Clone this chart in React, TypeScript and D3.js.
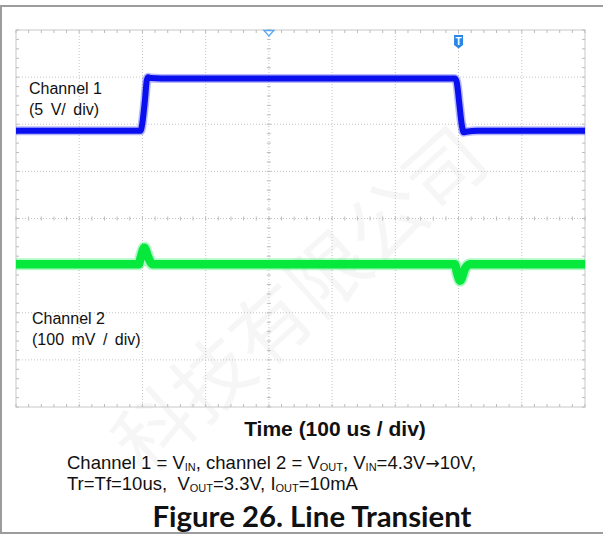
import React from "react";
import * as d3 from "d3";

// time in microseconds (100 us / div)
const timeDomain = [0, 900];
const divCount = 8;
const gridTimes = [100, 200, 300, 400, 500, 600, 700, 800];
const gridDivs = [1, 2, 3, 4, 5, 6, 7];

// Channel 1: VIN (V), 5 V/div
const ch1Time = [0, 197, 200, 204, 207, 209, 213, 230, 694, 697, 701, 705, 708, 712, 730, 900];
const ch1Volt = [4.3, 4.3, 5.2, 7.6, 9.7, 10.0, 9.9, 9.85, 9.85, 9.5, 7.3, 5.0, 4.15, 4.2, 4.3, 4.3];
// Channel 2: VOUT (V), 100 mV/div
const ch2Time = [0, 194, 198, 203, 209, 216, 694, 698, 702.5, 710, 718, 900];
const ch2Volt = [3.3, 3.3, 3.318, 3.335, 3.315, 3.3, 3.3, 3.28, 3.265, 3.29, 3.3, 3.3];

const ch1OffsetDiv = 5.0; // 0 V position
const ch1VoltsPerDiv = 5;
const ch2RefVolt = 3.3;
const ch2RefDiv = 3.03;
const ch2VoltsPerDiv = 0.1;

const triggerTime = 700;
const centerTime = 400;

export default function App() {
  const W = 603, H = 536;
  const L = 16, R = 585, T = 30, B = 407;
  const x = d3.scaleLinear().domain(timeDomain).range([L, R]);
  const y = d3.scaleLinear().domain([0, divCount]).range([B, T]);
  const ch1Div = (v: number) => ch1OffsetDiv + v / ch1VoltsPerDiv;
  const ch2Div = (v: number) => ch2RefDiv + (v - ch2RefVolt) / ch2VoltsPerDiv;

  const line = d3.line<[number, number]>().x(d => d[0]).y(d => d[1]).curve(d3.curveMonotoneX);
  const ch1Path = line(ch1Time.map((t, i) => [x(t), y(ch1Div(ch1Volt[i]))]))!;
  const ch2Path = line(ch2Time.map((t, i) => [x(t), y(ch2Div(ch2Volt[i]))]))!;

  const minorX = d3.range(timeDomain[0], timeDomain[1] + 0.1, 20);
  const minorY = d3.range(0, divCount + 0.01, 0.2);
  const cx = x(centerTime);
  const cy = y(4);
  const gridColor = "#c4c4c4";
  const font = "Liberation Sans, Arial, sans-serif";

  return (
    <svg width={W} height={H} style={{ position: "absolute", left: 0, top: 0, background: "#fff" }}>
      {/* watermark */}
      <g transform="translate(300,300) rotate(-42)" opacity={0.03}>
        <text x={0} y={28} textAnchor="middle" fontSize={78} fontFamily="Noto Sans CJK SC" fill="#000">
          科技有限公司
        </text>
      </g>
      {/* outer frame */}
      <line x1={0} x2={W} y1={6} y2={6} stroke="#9c9c9c" strokeWidth={2} />
      <line x1={1} x2={1} y1={5} y2={534} stroke="#9c9c9c" strokeWidth={2} />
      <line x1={0} x2={W} y1={533} y2={533} stroke="#9c9c9c" strokeWidth={2} />

      {/* grid */}
      {gridTimes.map(t => (
        <line key={"gx" + t} x1={x(t)} x2={x(t)} y1={T} y2={B} stroke={gridColor} strokeDasharray="1,2" />
      ))}
      {gridDivs.map(d => (
        <line key={"gy" + d} x1={L} x2={R} y1={y(d)} y2={y(d)} stroke={gridColor} strokeDasharray="1,2" />
      ))}
      <rect x={L} y={T} width={R - L} height={B - T} fill="none" stroke="#c8c8c8" strokeWidth={1} />
      {minorX.map(t => (
        <g key={"mx" + t} stroke="#bcbcbc">
          <line x1={x(t)} x2={x(t)} y1={T} y2={T + 3} />
          <line x1={x(t)} x2={x(t)} y1={B} y2={B - 3} />
          <line x1={x(t)} x2={x(t)} y1={cy - 2} y2={cy + 2} />
        </g>
      ))}
      {minorY.map(d => (
        <g key={"my" + d} stroke="#bcbcbc">
          <line x1={L} x2={L + 3} y1={y(d)} y2={y(d)} />
          <line x1={R} x2={R - 3} y1={y(d)} y2={y(d)} />
          <line x1={cx - 2} x2={cx + 2} y1={y(d)} y2={y(d)} />
        </g>
      ))}

      {/* traces */}
      <path d={ch1Path} fill="none" stroke="#4a4cf5" strokeOpacity={0.4} strokeWidth={9} />
      <path d={ch1Path} fill="none" stroke="#0a0ff0" strokeWidth={6} />
      <path d={ch2Path} fill="none" stroke="#3cf070" strokeOpacity={0.4} strokeWidth={12} />
      <path d={ch2Path} fill="none" stroke="#06e83c" strokeWidth={8.5} />

      {/* markers */}
      <path d={`M${cx - 5},${T + 0.5} L${cx + 5},${T + 0.5} L${cx},${T + 6} Z`} fill="#fff" stroke="#5aa8f0" strokeWidth={1.3} />
      <path
        d={`M${x(triggerTime) - 4.5},35 L${x(triggerTime) + 4.5},35 L${x(triggerTime) + 4.5},45 L${x(triggerTime)},48.5 L${x(triggerTime) - 4.5},45 Z`}
        fill="#2a86e6"
      />
      <text x={x(triggerTime)} y={45} textAnchor="middle" fontSize={10} fontWeight="bold" fill="#fff" fontFamily={font}>T</text>

      {/* channel labels */}
      <g fontFamily={font} fontSize={16} fill="#111">
        <text x={29} y={94}>Channel 1</text>
        <text x={29} y={115} wordSpacing={3}>(5 V/ div)</text>
        <text x={32} y={324}>Channel 2</text>
        <text x={32} y={345} wordSpacing={3}>(100 mV / div)</text>
      </g>

      <text x={335} y={436} textAnchor="middle" fontFamily={font} fontSize={21} fontWeight="bold" fill="#111">
        Time (100 us / div)
      </text>

      <g fontFamily={font} fontSize={18.5} fill="#111">
        <text x={67} y={469}>
          Channel 1 = V<tspan fontSize={11} dy={2}>IN</tspan>
          <tspan dy={-2}>, channel 2 = V</tspan>
          <tspan fontSize={11} dy={2}>OUT</tspan>
          <tspan dy={-2}>, V</tspan>
          <tspan fontSize={11} dy={2}>IN</tspan>
          <tspan dy={-2}>=4.3V</tspan>
          <tspan fontFamily="DejaVu Sans" fontSize={17}>→</tspan>
          <tspan>10V,</tspan>
        </text>
        <text x={67} y={490}>
          Tr=Tf=10us,{"\u00a0\u00a0"}V<tspan fontSize={11} dy={2}>OUT</tspan>
          <tspan dy={-2}>=3.3V, I</tspan>
          <tspan fontSize={11} dy={2}>OUT</tspan>
          <tspan dy={-2}>=10mA</tspan>
        </text>
      </g>

      <text x={312} y={527} textAnchor="middle" fontFamily="Lato, Open Sans, sans-serif" fontSize={28} fontWeight="bold" fill="#111" textLength={319} lengthAdjust="spacingAndGlyphs">
        Figure 26. Line Transient
      </text>
    </svg>
  );
}
